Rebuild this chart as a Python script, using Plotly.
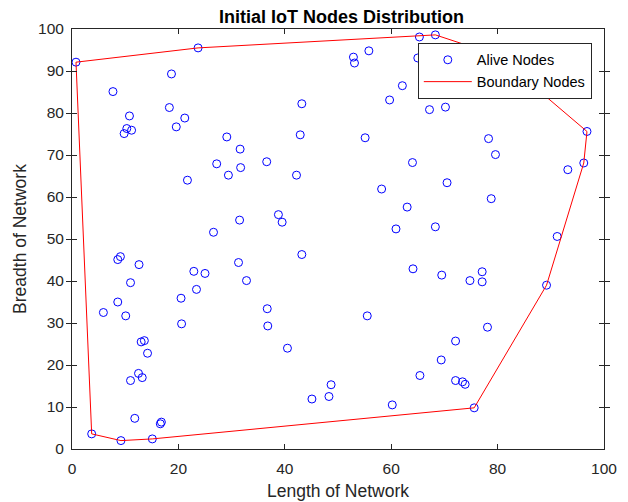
import plotly.graph_objects as go

# node positions
node_x = [0.75, 23.7, 18.7, 7.7, 43.2, 18.3, 10.8, 21.2, 19.6, 10.3,
          11.2, 9.8, 42.9, 29.1, 31.6, 36.6, 27.2, 31.7, 29.4, 42.2,
          21.7, 38.8, 39.5, 31.5, 26.6, 65.3, 68.3, 55.8, 52.9, 53.1,
          65.0, 62.1, 59.7, 70.2, 67.2, 86.5, 96.8, 55.1, 78.3, 79.6,
          96.2, 93.2, 64.0, 70.5, 58.2, 78.8, 63.0, 60.9, 68.3, 91.2,
          43.2, 9.1, 8.6, 12.6, 31.3, 22.9, 25.0, 32.8, 11.0, 23.4,
          20.5, 8.6, 36.7, 5.9, 10.1, 20.6, 36.8, 13.6, 13.0, 14.2,
          40.5, 12.5, 13.2, 11.0, 48.7, 45.1, 48.3, 11.8, 16.8, 16.6,
          3.7, 9.2, 15.1, 64.1, 69.5, 77.1, 74.8, 77.1, 89.2, 55.5,
          78.1, 72.1, 69.4, 65.4, 72.1, 73.4, 73.9, 60.2, 75.6, 76.7]
node_y = [92.1, 95.5, 89.3, 85.1, 82.2, 81.3, 79.3, 78.8, 76.7, 76.3,
          75.9, 75.1, 74.8, 74.3, 71.4, 68.4, 67.9, 67.0, 65.2, 65.2,
          64.0, 55.8, 54.0, 54.5, 51.6, 98.1, 98.6, 94.8, 93.3, 91.9,
          93.1, 86.5, 83.1, 81.4, 80.8, 86.7, 75.6, 74.1, 73.9, 70.1,
          68.1, 66.5, 68.2, 63.4, 61.9, 59.6, 57.6, 52.4, 52.9, 50.6,
          46.3, 45.8, 45.1, 43.9, 44.4, 42.3, 41.8, 40.1, 39.6, 38.0,
          35.9, 35.0, 33.4, 32.5, 31.7, 29.8, 29.3, 25.8, 25.5, 22.8,
          24.0, 18.0, 17.0, 16.3, 15.3, 11.9, 12.5, 7.3, 6.4, 6.0,
          3.6, 2.0, 2.4, 42.9, 41.4, 42.2, 40.1, 39.8, 39.0, 31.7,
          29.0, 25.7, 21.2, 17.5, 16.3, 16.0, 15.4, 10.5, 9.8, 95.1]

# hull vertices (indices into the node lists), closed
boundary_idx = [0, 1, 26, 99, 35, 36, 40, 88, 98, 82, 81, 80, 0]
boundary_x = [node_x[i] for i in boundary_idx]
boundary_y = [node_y[i] for i in boundary_idx]

font = 'Liberation Sans, Arial, sans-serif'
axcol = '#262626'

# page body has an 8px default margin, so the figure is 8px smaller each way
W, H = 620, 494

fig = go.Figure()
fig.add_trace(go.Scatter(x=node_x, y=node_y, mode='markers', name='Alive Nodes',
                         marker=dict(symbol='circle-open', size=8, color='#0000FF',
                                     line=dict(width=1, color='#0000FF'))))
fig.add_trace(go.Scatter(x=boundary_x, y=boundary_y, mode='lines', name='Boundary Nodes',
                         line=dict(color='#FF0000', width=1)))
# empty trace so the tick-only x axis gets drawn
fig.add_trace(go.Scatter(x=[], y=[], xaxis='x2', showlegend=False, hoverinfo='skip'))

tickfont = dict(size=15.5, color=axcol, family=font)
# bottom axis: labels pushed down by invisible outside ticks
fig.update_xaxes(range=[0, 100], dtick=20, showgrid=False, zeroline=False,
                 showline=True, linecolor=axcol, linewidth=1, mirror=True,
                 ticks='outside', ticklen=5, tickcolor='rgba(0,0,0,0)',
                 automargin=False, tickfont=tickfont,
                 title=dict(text='Length of Network', standoff=9,
                            font=dict(size=17.5, color=axcol, family=font)))
fig.update_yaxes(range=[0, 100], dtick=10, showgrid=False, zeroline=False,
                 showline=True, linecolor=axcol, linewidth=1, mirror='allticks',
                 ticks='inside', ticklen=5, tickcolor=axcol, ticklabelstandoff=4,
                 automargin=False, tickfont=tickfont,
                 title=dict(text='Breadth of Network', standoff=6,
                            font=dict(size=17.5, color=axcol, family=font)))

fig.update_layout(
    width=W, height=H,
    margin=dict(l=64, r=24, t=21, b=53),
    plot_bgcolor='white', paper_bgcolor='white',
    # second x axis only for the inside ticks, top and bottom
    xaxis2=dict(overlaying='x', range=[0, 100], dtick=20, side='bottom', anchor='y',
                showgrid=False, zeroline=False, showline=False, showticklabels=False,
                ticks='inside', ticklen=5, tickcolor=axcol, mirror='allticks',
                automargin=False),
    title=dict(text='<b>Initial IoT Nodes Distribution</b>', x=333.5 / W, xref='container',
               y=1 - 9 / H, yref='container', xanchor='center', yanchor='middle',
               font=dict(size=18, color='black', family=font)),
    legend=dict(x=0.65, y=0.967, xanchor='left', yanchor='top', bgcolor='white',
                bordercolor=axcol, borderwidth=1, itemwidth=48,
                font=dict(size=14.5, color='black', family=font), tracegroupgap=0),
)

fig.write_html("out.html")
